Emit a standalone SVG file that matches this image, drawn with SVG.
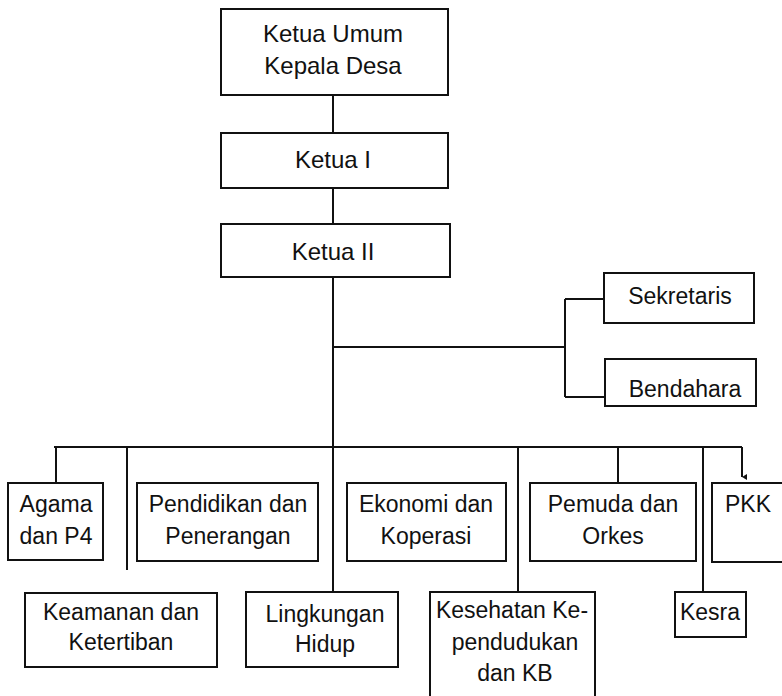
<svg xmlns="http://www.w3.org/2000/svg" width="782" height="696" viewBox="0 0 782 696">
<style>
.box{fill:#fff;stroke:#111;stroke-width:2}
.ln{fill:none;stroke:#111;stroke-width:2}
text{font-family:"Liberation Sans",Arial,sans-serif;fill:#111;text-anchor:middle}
.t24{font-size:24px}
.t23{font-size:23px}
</style>
<defs>
<marker id="arr" markerWidth="8" markerHeight="8" refX="4" refY="6" orient="auto" markerUnits="userSpaceOnUse"><path d="M1,1 L4,6 L7,1" fill="#111"/></marker>
</defs>
<rect width="782" height="696" fill="#fff"/>
<g id="connectors">
<path class="ln" d="M333,95 V133"/>
<path class="ln" d="M333,188 V224"/>
<path class="ln" d="M333,277 V592"/>
<path class="ln" d="M333,347 H565"/>
<path class="ln" d="M565,299 V397"/>
<path class="ln" d="M565,299 H604"/>
<path class="ln" d="M565,397 H605"/>
<path class="ln" d="M54,447 H742"/>
<path class="ln" d="M56,447 V483"/>
<path class="ln" d="M127,447 V570"/>
<path class="ln" d="M518,447 V592"/>
<path class="ln" d="M618,447 V483"/>
<path class="ln" d="M703,447 V592"/>
<path class="ln" d="M742,447 V477" marker-end="url(#arr)"/>
</g>
<g id="ketua-umum"><rect class="box" x="221" y="9" width="227" height="86"/><text class="t24" x="333" y="42">Ketua Umum</text><text class="t24" x="333" y="74">Kepala Desa</text></g>
<g id="ketua-1"><rect class="box" x="221" y="133" width="227" height="55"/><text class="t24" x="333" y="168">Ketua I</text></g>
<g id="ketua-2"><rect class="box" x="221" y="224" width="229" height="53"/><text class="t24" x="333" y="260">Ketua II</text></g>
<g id="sekretaris"><rect class="box" x="604" y="273" width="150" height="50"/><text class="t23" x="680" y="304">Sekretaris</text></g>
<g id="bendahara"><rect class="box" x="605" y="359" width="151" height="47"/><text class="t23" x="685" y="397">Bendahara</text></g>
<g id="agama"><rect class="box" x="8" y="483" width="95" height="77"/><text class="t23" x="56" y="512">Agama</text><text class="t23" x="56" y="544">dan P4</text></g>
<g id="pendidikan"><rect class="box" x="137" y="483" width="181" height="78"/><text class="t23" x="228" y="512">Pendidikan dan</text><text class="t23" x="228" y="544">Penerangan</text></g>
<g id="ekonomi"><rect class="box" x="347" y="483" width="159" height="78"/><text class="t23" x="426" y="512">Ekonomi dan</text><text class="t23" x="426" y="544">Koperasi</text></g>
<g id="pemuda"><rect class="box" x="530" y="483" width="166" height="78"/><text class="t23" x="613" y="512">Pemuda dan</text><text class="t23" x="613" y="544">Orkes</text></g>
<g id="pkk"><rect class="box" x="712" y="483" width="80" height="79"/><text class="t23" x="748" y="512">PKK</text></g>
<g id="keamanan"><rect class="box" x="25" y="593" width="192" height="74"/><text class="t23" x="121" y="620">Keamanan dan</text><text class="t23" x="121" y="650">Ketertiban</text></g>
<g id="lingkungan"><rect class="box" x="246" y="592" width="152" height="75"/><text class="t23" x="325" y="622">Lingkungan</text><text class="t23" x="325" y="652">Hidup</text></g>
<g id="kesehatan"><rect class="box" x="430" y="592" width="165" height="110"/><text class="t23" x="512" y="618">Kesehatan Ke-</text><text class="t23" x="515" y="650">pendudukan</text><text class="t23" x="515" y="681">dan KB</text></g>
<g id="kesra"><rect class="box" x="675" y="592" width="71" height="45"/><text class="t23" x="710" y="620">Kesra</text></g>
</svg>
